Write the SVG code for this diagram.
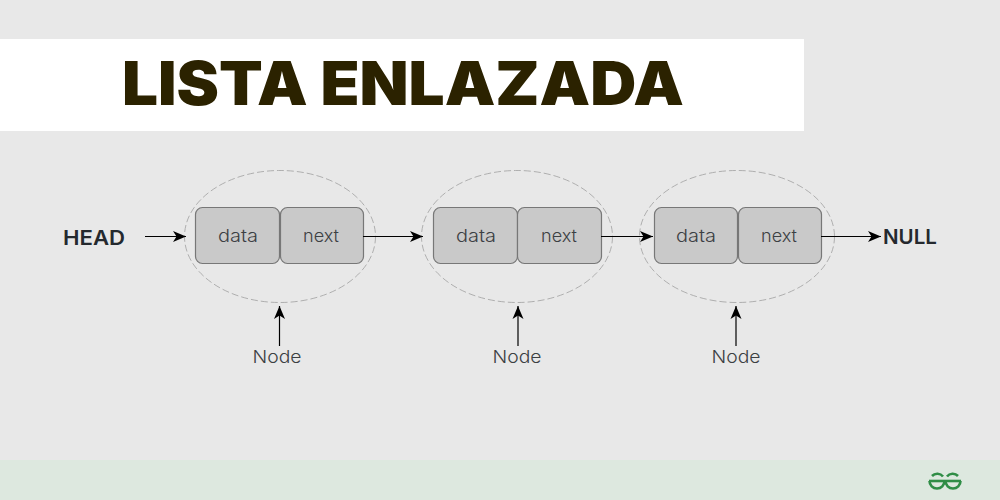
<svg xmlns="http://www.w3.org/2000/svg" width="1000" height="500" viewBox="0 0 1000 500">
<defs>
<style>
.box{fill:#c9c9c9;stroke:#777;stroke-width:1.2}
.el{fill:none;stroke:#a0a0a0;stroke-width:.8;stroke-dasharray:7 3}
.lab{font-family:"Inter","Open Sans","Liberation Sans",sans-serif;font-weight:300;font-size:17.500px;fill:#3c4043;text-anchor:middle}
.big{font-family:"Inter","Open Sans","Liberation Sans",sans-serif;font-weight:600;font-size:20.500px;fill:#24292e}
.con{stroke:#000;stroke-width:1.200;fill:none;marker-end:url(#a)}
</style>
<marker id="a" markerUnits="userSpaceOnUse" markerWidth="14" markerHeight="12" refX="13" refY="6" orient="auto"><path d="M0 .5L13 6L0 11.500L3.500 6Z" fill="#000"/></marker>
</defs>
<rect width="1000" height="500" fill="#e8e8e8"/>
<rect y="460" width="1000" height="40" fill="#dde8df"/>
<rect y="39" width="804" height="92" fill="#fff"/>
<text id="title" x="403" y="105" text-anchor="middle" font-family="Inter,'Liberation Sans',sans-serif" font-weight="900" font-size="60" fill="#2b2200" textLength="562" lengthAdjust="spacingAndGlyphs">LISTA ENLAZADA</text>
<text id="head" class="big" x="63" y="245" textLength="62" lengthAdjust="spacingAndGlyphs">HEAD</text>
<text id="null" class="big" x="883" y="244">NULL</text>
<g id="node1"><ellipse class="el" cx="280" cy="236.500" rx="95.500" ry="66"/><rect class="box" x="195.500" y="207.500" width="84" height="56" rx="7"/><rect class="box" x="280.500" y="207.500" width="83" height="56" rx="7"/><text class="lab" x="238" y="242" textLength="40" lengthAdjust="spacingAndGlyphs">data</text><text class="lab" x="321" y="242" textLength="36" lengthAdjust="spacingAndGlyphs">next</text><text class="lab" x="277" y="363" textLength="49" lengthAdjust="spacingAndGlyphs">Node</text></g>
<g id="node2"><ellipse class="el" cx="517" cy="236.500" rx="95.500" ry="66"/><rect class="box" x="433.500" y="207.500" width="84" height="56" rx="7"/><rect class="box" x="517.500" y="207.500" width="84" height="56" rx="7"/><text class="lab" x="476" y="242" textLength="40" lengthAdjust="spacingAndGlyphs">data</text><text class="lab" x="559" y="242" textLength="36" lengthAdjust="spacingAndGlyphs">next</text><text class="lab" x="517" y="363" textLength="49" lengthAdjust="spacingAndGlyphs">Node</text></g>
<g id="node3"><ellipse class="el" cx="737" cy="236.500" rx="97.500" ry="66"/><rect class="box" x="654.500" y="207.500" width="83" height="56" rx="7"/><rect class="box" x="738.500" y="207.500" width="83" height="56" rx="7"/><text class="lab" x="696" y="242" textLength="40" lengthAdjust="spacingAndGlyphs">data</text><text class="lab" x="779" y="242" textLength="36" lengthAdjust="spacingAndGlyphs">next</text><text class="lab" x="736" y="363" textLength="49" lengthAdjust="spacingAndGlyphs">Node</text></g>
<g id="connectors">
<path class="con" d="M145 236.500H186"/><path class="con" d="M363 236.500H423"/><path class="con" d="M601 236.500H653"/><path class="con" d="M821 236.500H881"/>
<path class="con" d="M279.500 346V306"/><path class="con" d="M518 346V306"/><path class="con" d="M736 346V306"/>
</g>
<g id="logo" fill="none" stroke="#2f8d46" stroke-width="2.600"><path d="M929 481H961"/><path d="M929.500 481A7.500 7.500 0 0 0 944.500 481M932 476A7 6.500 0 0 1 943 476.500"/><path d="M945.500 481A7.500 7.500 0 0 0 960.500 481M947 476.500A7 6.500 0 0 1 958 476"/></g>
</svg>
